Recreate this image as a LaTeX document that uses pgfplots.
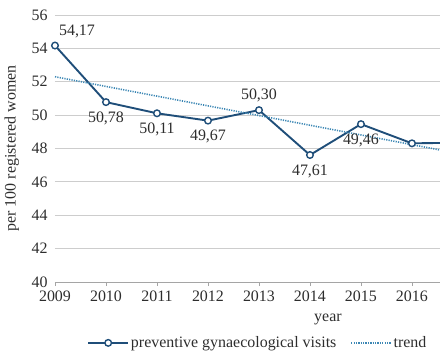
\documentclass[border=0pt]{standalone}
\usepackage{pgfplots}
\pgfplotsset{compat=1.18}
\usepackage{pgfplotstable}
\usepackage{fontspec}
\setmainfont{Liberation Serif}
\definecolor{mainblue}{RGB}{31,78,121}
\definecolor{trendblue}{RGB}{60,135,180}
\definecolor{gridgray}{RGB}{205,205,205}
\definecolor{axisgray}{RGB}{165,165,165}
\definecolor{txt}{RGB}{45,45,45}

\pgfplotstableread{
x y lab dx dy
2009 54.17 {54,17} 22 14
2010 50.78 {50,78} 0 -16
2011 50.11 {50,11} 0 -16
2012 49.67 {49,67} 0 -16
2013 50.30 {50,30} 0 15
2014 47.61 {47,61} 0 -16
2015 49.46 {49,46} 0 -16
2016 48.31 {} 0 0
2017 48.35 {} 0 0
}\visits

\begin{document}
\begin{tikzpicture}[font=\fontsize{16}{19}\selectfont]
\begin{axis}[
  at={(0,0)}, anchor=south west,
  scale only axis, width=385bp, height=267bp,
  xmin=2009, xmax=2016.55, ymin=40, ymax=56,
  xtick={2009,...,2016}, ytick={40,42,...,56},
  /pgf/number format/assume math mode=true,
  /pgf/number format/1000 sep={},
  axis x line*=bottom, axis y line*=left,
  x axis line style={-, draw=axisgray, line width=0.8pt},
  y axis line style={draw=none},
  xtick style={draw=axisgray, line width=0.8pt},
  ytick style={draw=none},
  tick align=outside, major tick length=4bp,
  ymajorgrids, grid style={gridgray, line width=0.8pt},
  ticklabel style={text=txt},
  xticklabel style={yshift=-1bp},
  xlabel={year},
  xlabel style={at={(axis description cs:0.709,-0.142)}, anchor=center, text=txt},
  ylabel={per 100 registered women},
  ylabel style={at={(axis description cs:-0.112,0.5)}, anchor=center, text=txt},
  legend style={at={(axis description cs:0.527,-0.228)}, anchor=center, draw=none, fill=none,
    legend columns=-1, /tikz/every even column/.append style={column sep=12bp}, text=txt},
  legend image code/.code={\draw[mark repeat=2,mark phase=2,#1] plot coordinates {(0cm,0cm) (0.7cm,0cm) (1.4cm,0cm)};},
]
\addplot[mainblue, line width=1.9pt, mark=*, mark size=3.3bp,
  mark options={fill=white, draw=mainblue, line width=1.4pt},
  point meta=explicit symbolic,
  visualization depends on={\thisrow{dx} \as \mydx},
  visualization depends on={\thisrow{dy} \as \mydy},
  nodes near coords,
  nodes near coords style={anchor=center, xshift=\mydx bp, yshift=\mydy bp, text=txt, font=\fontsize{16}{19}\selectfont},
] table[x=x, y=y, meta=lab] {\visits};
\addlegendentry{preventive gynaecological visits}
\addplot[trendblue, line width=1.6pt, dash pattern=on 1.2pt off 1.2pt] coordinates {(2009,52.3) (2017,47.65)};
\addlegendentry{trend}
\end{axis}
\pgfresetboundingbox
\path (-55bp,-74bp) rectangle (385bp,282bp);
\end{tikzpicture}
\end{document}
